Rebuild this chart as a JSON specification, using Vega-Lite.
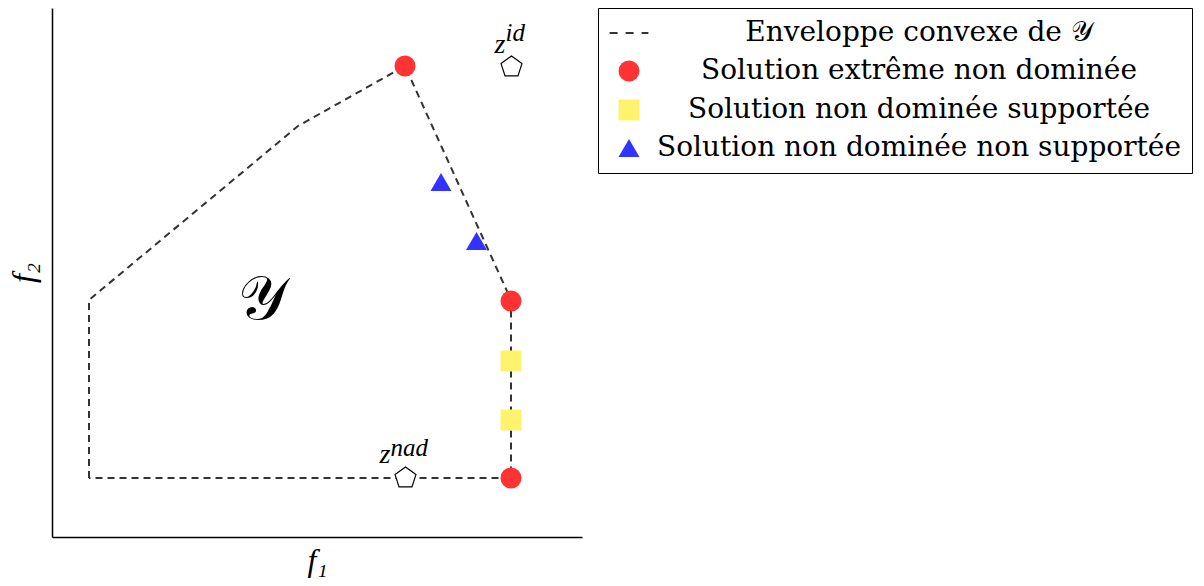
{
  "$schema": "https://vega.github.io/schema/vega-lite/v6.json",
  "width": 530,
  "height": 529,
  "autosize": {"type": "none"},
  "padding": {"left": 52, "top": 8, "right": 622, "bottom": 49},
  "background": "white",
  "config": {
    "view": {"stroke": null},
    "axis": {"grid": false, "ticks": false, "labels": false, "domainColor": "#000000", "domainWidth": 1.5, "titleFont": "Liberation Serif", "titleFontStyle": "italic", "titleFontWeight": "normal", "titleFontSize": 32, "titleColor": "#000000"}
  },
  "datasets": {
    "pts": [
      {"kind": "hull", "order": 1, "x": 37, "y": 59},
      {"kind": "hull", "order": 2, "x": 37, "y": 237},
      {"kind": "hull", "order": 3, "x": 246, "y": 411},
      {"kind": "hull", "order": 4, "x": 353, "y": 471},
      {"kind": "hull", "order": 5, "x": 459, "y": 237},
      {"kind": "hull", "order": 6, "x": 459, "y": 59},
      {"kind": "hull", "order": 7, "x": 37, "y": 59},
      {"kind": "point", "type": "Solution extrême non dominée", "x": 353, "y": 471},
      {"kind": "point", "type": "Solution extrême non dominée", "x": 459, "y": 236},
      {"kind": "point", "type": "Solution extrême non dominée", "x": 459, "y": 59},
      {"kind": "point", "type": "Solution non dominée supportée", "x": 459, "y": 176},
      {"kind": "point", "type": "Solution non dominée supportée", "x": 459, "y": 117},
      {"kind": "point", "type": "Solution non dominée non supportée", "x": 389, "y": 355},
      {"kind": "point", "type": "Solution non dominée non supportée", "x": 424.5, "y": 296},
      {"kind": "pent", "name": "id", "x": 459.5, "y": 470},
      {"kind": "pent", "name": "nad", "x": 353.5, "y": 59},
      {"kind": "Y", "x": 210, "y": 237, "text": "𝒴"}
    ]
  },
  "data": {"name": "pts"},
  "encoding": {
    "x": {"field": "x", "type": "quantitative", "scale": {"domain": [0, 530], "nice": false, "zero": false}, "axis": {"title": "f₁", "titlePadding": 8}},
    "y": {"field": "y", "type": "quantitative", "scale": {"domain": [0, 529], "nice": false, "zero": false}, "axis": {"title": "f₂", "titlePadding": 12}}
  },
  "layer": [
    {
      "transform": [{"filter": "datum.kind === 'hull'"}],
      "mark": {"type": "line", "color": "#333333", "strokeWidth": 2, "strokeDash": [7, 5]},
      "encoding": {"order": {"field": "order", "type": "quantitative"}}
    },
    {
      "transform": [{"filter": "datum.kind === 'point'"}],
      "mark": {"type": "point", "filled": true, "opacity": 1, "size": 440},
      "encoding": {
        "color": {
          "field": "type", "type": "nominal",
          "scale": {"domain": ["Enveloppe convexe de 𝒴", "Solution extrême non dominée", "Solution non dominée supportée", "Solution non dominée non supportée"], "range": ["#333333", "#ff3333", "#fff36e", "#3333ff"]},
          "legend": {
            "title": null, "orient": "right", "offset": 16, "padding": 11,
            "strokeColor": "#000000", "cornerRadius": 0,
            "labelFont": "DejaVu Serif", "labelFontSize": 28, "labelColor": "#000000",
            "labelAlign": "center", "labelOffset": 276, "labelLimit": 0,
            "rowPadding": 9, "symbolSize": 440, "symbolOffset": 6,
            "symbolOpacity": 1,
            "encode": {
              "symbols": {"update": {
                "stroke": {"signal": "indexof(datum.value, 'Enveloppe') === 0 ? '#333333' : 'transparent'"},
                "strokeWidth": {"value": 2},
                "strokeDash": {"signal": "indexof(datum.value, 'Enveloppe') === 0 ? [8, 8] : [1, 0]"}
              }}
            }
          }
        },
        "shape": {
          "field": "type", "type": "nominal",
          "scale": {"domain": ["Enveloppe convexe de 𝒴", "Solution extrême non dominée", "Solution non dominée supportée", "Solution non dominée non supportée"], "range": ["M-1.85,0H1.85", "circle", "square", "triangle-up"]}
        }
      }
    },
    {
      "transform": [{"filter": "datum.kind === 'pent'"}],
      "mark": {"type": "point", "shape": "M0,-1L0.951,-0.309L0.588,0.809L-0.588,0.809L-0.951,-0.309Z", "size": 484, "fill": "#ffffff", "stroke": "#000000", "strokeWidth": 1.2, "opacity": 1, "filled": false}
    },
    {
      "transform": [{"filter": "datum.kind === 'Y'"}],
      "mark": {"type": "text", "fontSize": 62, "font": "DejaVu Serif", "color": "#000000", "align": "center", "baseline": "middle"},
      "encoding": {"text": {"field": "text"}}
    },
    {
      "transform": [{"filter": "datum.kind === 'pent' && datum.name === 'id'"}],
      "mark": {"type": "text", "text": "z", "font": "Liberation Serif", "fontStyle": "italic", "fontSize": 28, "align": "right", "baseline": "alphabetic", "dx": -6, "dy": -14, "color": "#000000"}
    },
    {
      "transform": [{"filter": "datum.kind === 'pent' && datum.name === 'id'"}],
      "mark": {"type": "text", "text": "id", "font": "Liberation Serif", "fontStyle": "italic", "fontSize": 25, "align": "left", "baseline": "alphabetic", "dx": -6, "dy": -26, "color": "#000000"}
    },
    {
      "transform": [{"filter": "datum.kind === 'pent' && datum.name === 'nad'"}],
      "mark": {"type": "text", "text": "z", "font": "Liberation Serif", "fontStyle": "italic", "fontSize": 28, "align": "right", "baseline": "alphabetic", "dx": -15, "dy": -15, "color": "#000000"}
    },
    {
      "transform": [{"filter": "datum.kind === 'pent' && datum.name === 'nad'"}],
      "mark": {"type": "text", "text": "nad", "font": "Liberation Serif", "fontStyle": "italic", "fontSize": 25, "align": "left", "baseline": "alphabetic", "dx": -15, "dy": -22, "color": "#000000"}
    }
  ]
}
